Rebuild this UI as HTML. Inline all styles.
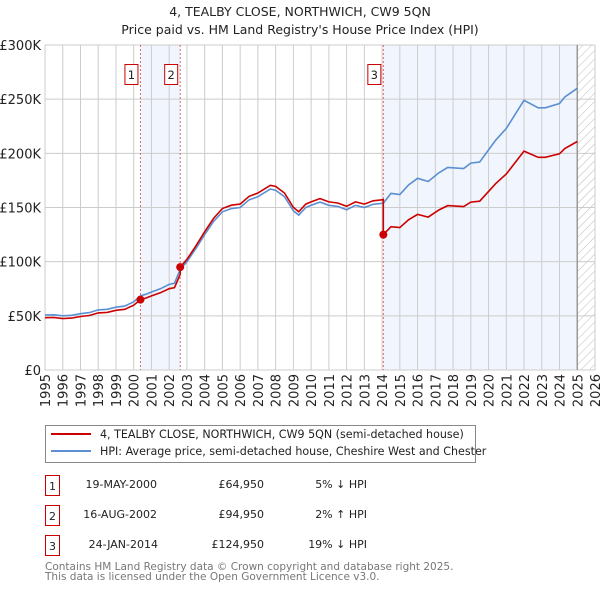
<!DOCTYPE html>
<html><head><meta charset="utf-8"><style>
body{margin:0;background:#fff;font-family:"DejaVu Sans","Liberation Sans",sans-serif;}
svg{display:block}
</style></head><body>
<svg id="chart" width="600" height="590" xmlns="http://www.w3.org/2000/svg" font-family="DejaVu Sans, Liberation Sans, sans-serif">
<defs>
<pattern id="hatch" patternUnits="userSpaceOnUse" width="6" height="6" patternTransform="rotate(45)">
<line x1="0" y1="0" x2="0" y2="6" stroke="#bbb" stroke-width="1"/>
</pattern>
</defs>
<text x="300" y="16" text-anchor="middle" font-size="12.5" fill="#222">4, TEALBY CLOSE, NORTHWICH, CW9 5QN</text>
<text x="300" y="34" text-anchor="middle" font-size="12.5" fill="#222">Price paid vs. HM Land Registry's House Price Index (HPI)</text>
<g id="plot"></g>
<g>
<rect x="45.5" y="425.5" width="430" height="37" fill="#fff" stroke="#888"/>
<line x1="51" y1="434" x2="91" y2="434" stroke="#cc0000" stroke-width="2"/>
<text x="100" y="438" font-size="11.1" fill="#222">4, TEALBY CLOSE, NORTHWICH, CW9 5QN (semi-detached house)</text>
<line x1="51" y1="451" x2="91" y2="451" stroke="#5b8fd1" stroke-width="2"/>
<text x="100" y="455" font-size="11.1" fill="#222">HPI: Average price, semi-detached house, Cheshire West and Chester</text>
</g>
<g font-size="11" fill="#222">
<rect x="45.5" y="475.5" width="14" height="20" fill="#fff" stroke="#cc0000"/><text x="52.5" y="490" text-anchor="middle">1</text>
<text x="157" y="488" text-anchor="end">19-MAY-2000</text><text x="264" y="488" text-anchor="end">£64,950</text><text x="367" y="488" text-anchor="end">5% ↓ HPI</text>
<rect x="45.5" y="505.5" width="14" height="20" fill="#fff" stroke="#cc0000"/><text x="52.5" y="520" text-anchor="middle">2</text>
<text x="157" y="518" text-anchor="end">16-AUG-2002</text><text x="264" y="518" text-anchor="end">£94,950</text><text x="367" y="518" text-anchor="end">2% ↑ HPI</text>
<rect x="45.5" y="535.5" width="14" height="20" fill="#fff" stroke="#cc0000"/><text x="52.5" y="550" text-anchor="middle">3</text>
<text x="158" y="548" text-anchor="end">24-JAN-2014</text><text x="264" y="548" text-anchor="end">£124,950</text><text x="367" y="548" text-anchor="end">19% ↓ HPI</text>
</g>
<text x="45" y="570" font-size="10.5" fill="#777">Contains HM Land Registry data © Crown copyright and database right 2025.</text>
<text x="45" y="580" font-size="10.5" fill="#777">This data is licensed under the Open Government Licence v3.0.</text>
</svg>
<script>
const hpiYears=[1995,1995.5,1996,1996.5,1997,1997.5,1998,1998.5,1999,1999.5,2000,2000.38,2000.7,2001,2001.5,2002,2002.3,2002.62,2003,2003.5,2004,2004.5,2005,2005.5,2006,2006.5,2007,2007.7,2008,2008.5,2009,2009.3,2009.7,2010,2010.5,2011,2011.5,2012,2012.5,2013,2013.5,2014.07,2014.5,2015,2015.5,2016,2016.6,2017.2,2017.7,2018.6,2019,2019.5,2020.4,2021,2022,2022.8,2023.2,2024,2024.3,2025];
const hpiValues=[50.8,51,50,50.5,52,53,55.5,56,58,59,63,68.4,70,72,75,79,80,93,100,112,125,137,146,149,150,157,160,167,166,160,147,143,150,152,155,152,151,148,152,150,153,154,163,162,171,177,174,182,187,186,191,192,212,223,249,242,242,246,252,260];
const saleYears=[2000.38,2002.62,2014.07];
const salePrices=[64.95,94.95,124.95];
const saleLabels=["1","2","3"];
const yTicks=[0,50,100,150,200,250,300];
const yTickLabels=["£0","£50K","£100K","£150K","£200K","£250K","£300K"];
const xTicks=[1995,1996,1997,1998,1999,2000,2001,2002,2003,2004,2005,2006,2007,2008,2009,2010,2011,2012,2013,2014,2015,2016,2017,2018,2019,2020,2021,2022,2023,2024,2025,2026];
const dataEnd=2025;

const X0=45,X1=595,Y0=370,Y1=45;
const sx=y=>X0+(y-1995)/(2026-1995)*(X1-X0);
const sy=v=>Y0-v/300*(Y0-Y1);
const NS="http://www.w3.org/2000/svg";
const g=document.getElementById('plot');
function mk(tag,attrs,parent){const e=document.createElementNS(NS,tag);for(const k in attrs)e.setAttribute(k,attrs[k]);(parent||g).appendChild(e);return e;}
function hpiAt(t){for(let i=0;i<hpiYears.length-1;i++){if(t>=hpiYears[i]&&t<=hpiYears[i+1]){const f=(t-hpiYears[i])/(hpiYears[i+1]-hpiYears[i]);return hpiValues[i]+f*(hpiValues[i+1]-hpiValues[i]);}}return hpiValues[hpiValues.length-1];}

let s=mk('rect',{x:sx(saleYears[0]),y:Y1,width:sx(saleYears[1])-sx(saleYears[0]),height:Y0-Y1,fill:'#eef3fc',opacity:0.8});


s=mk('rect',{x:sx(saleYears[2]),y:Y1,width:sx(dataEnd)-sx(saleYears[2]),height:Y0-Y1,fill:'#eef3fc',opacity:0.8});


s=mk('rect',{x:sx(dataEnd),y:Y1,width:X1-sx(dataEnd),height:Y0-Y1,fill:'url(#hatch)'});



yTicks.forEach((v,i)=>{
 const l=mk('line',{x1:X0,x2:X1,y1:sy(v),y2:sy(v),stroke:'#ccc','stroke-width':1});
 
 
 const t=mk('text',{x:X0-4,y:sy(v)+5,'text-anchor':'end','font-size':13,fill:'#222'});
 t.textContent=yTickLabels[i];
 
 
});
xTicks.forEach(y=>{
 const l=mk('line',{x1:sx(y),x2:sx(y),y1:Y1,y2:Y0,stroke:'#ccc','stroke-width':1});
 
 
 const t=mk('text',{x:0,y:0,'text-anchor':'end','font-size':13,fill:'#222',transform:`translate(${sx(y)+5},${Y0+4}) rotate(-90)`});
 t.textContent=y;
 
 
});
const dl=mk('line',{x1:sx(dataEnd),x2:sx(dataEnd),y1:Y1,y2:Y0,stroke:'#999','stroke-width':1.5});



saleYears.forEach((y,i)=>{
 const l=mk('line',{x1:sx(y),x2:sx(y),y1:Y1,y2:Y0,stroke:'#e06666','stroke-width':1,'stroke-dasharray':'2,2'});
 
 
});

const hp=hpiYears.map((y,i)=>sx(y).toFixed(1)+','+sy(hpiValues[i]).toFixed(1)).join(' ');
const hl=mk('polyline',{points:hp,fill:'none',stroke:'#5b8fd1','stroke-width':1.6});



const pts=[];
hpiYears.forEach((y,i)=>{
 let k=-1;for(let j=0;j<saleYears.length;j++)if(saleYears[j]<=y+1e-9)k=j;
 const ref=k<0?0:k;
 pts.push([y,hpiValues[i]*salePrices[ref]/hpiAt(saleYears[ref])]);
});
saleYears.forEach((y,j)=>{
 if(j>0){pts.push([y-0.001,hpiAt(y)*salePrices[j-1]/hpiAt(saleYears[j-1])]);}
 pts.push([y,salePrices[j]]);
});
pts.sort((a,b)=>a[0]-b[0]);
const rl=mk('polyline',{points:pts.map(p=>sx(p[0]).toFixed(1)+','+sy(p[1]).toFixed(1)).join(' '),fill:'none',stroke:'#cc0000','stroke-width':1.6});



saleYears.forEach((y,i)=>{
 const c=mk('circle',{cx:sx(y),cy:sy(salePrices[i]),r:4,fill:'#cc0000'});
 
 
 const bx=sx(y)-15;
 const r=mk('rect',{x:bx-0.5,y:64.5,width:13,height:20,fill:'#fff',stroke:'#cc0000'});
 
 
 const t=mk('text',{x:bx+6,y:79,'text-anchor':'middle','font-size':11.5,fill:'#222'});
 t.textContent=saleLabels[i];
 
 
});
</script>
</body></html>
